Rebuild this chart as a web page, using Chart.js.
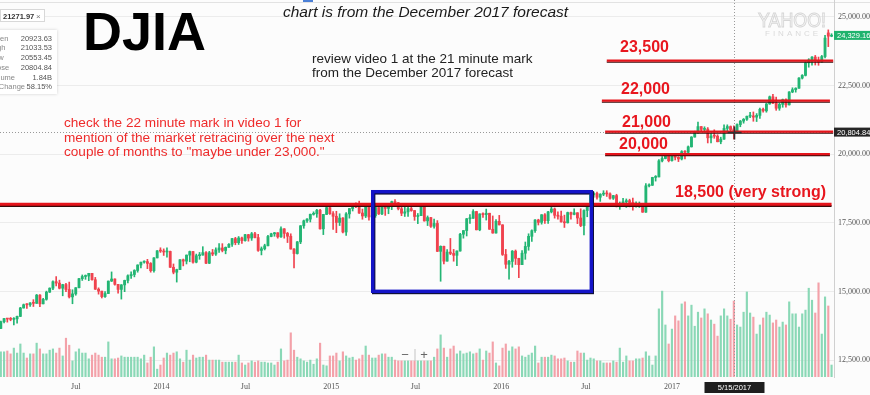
<!DOCTYPE html>
<html>
<head>
<meta charset="utf-8">
<script src="https://cdn.jsdelivr.net/npm/chart.js@4.4.1/dist/chart.umd.min.js"></script>
<style>
html, body { margin: 0; padding: 0; background: #fff; }
canvas { display: block; }
</style>
</head>
<body>
<canvas id="djia" width="870" height="395"></canvas>
<script>
// weekly DJIA candles, week 0 = week of Jan 21 2013
var opens = [
13650,13896,14010,13993,13981,14000,14090,14397,14514,14512,
14579,14565,14865,14547,14712,14974,15118,15354,15303,15116,
15248,15070,14800,14910,15135,15464,15544,15559,15658,15426,
15081,15010,14810,14922,15376,15452,15258,15073,15237,15400,
15571,15616,15762,15962,16065,16086,16020,15755,16221,16479,
16470,16437,16458,15879,15699,15794,16154,16104,16322,16453,
16066,16302,16323,16413,16027,16409,16361,16513,16583,16491,
16606,16717,16924,16776,16947,16851,17068,16944,17100,16961,
16493,16554,16663,17001,17098,17137,16988,17280,17113,17010,
16544,16380,16805,17391,17573,17635,17810,17828,17959,17281,
17805,18053,17833,17738,17512,17673,17165,17825,18019,18140,
18133,17856,17749,18128,17713,17763,18058,17826,18081,18025,
18191,18272,18232,18011,17849,17899,18016,17947,17730,17760,
18086,17569,17690,17373,17477,16460,16643,16102,16433,16385,
16315,16472,17084,17216,17647,17664,17911,17245,17824,17798,
17848,17265,17128,17553,17425,16346,15988,16094,16466,16205,
15974,16392,16640,17007,17213,17602,17516,17793,17577,17898,
18004,17774,17741,17535,17501,17873,17807,17865,17675,17400,
17949,18147,18517,18571,18432,18543,18577,18553,18395,18492,
18085,18124,18262,18308,18240,18138,18146,18161,17888,18848,
18868,19153,19171,19757,19843,19934,19763,19964,19886,19827,
20094,20071,20269,20624,20822,21006,20903,20915,20597,20663,
20656,20453,20548,20941,21007,20924,20805,21080,21206,21272,
21384,21395,21350,21414,21638,21580,21830,22092,21858,21675,
21814,21988,21798,22268,22350,22405,22774,22872,23329,23434,
23539,23422,23358,23558,24420,24300
];
var highs = [
13920,14020,14020,14050,14050,14100,14420,14540,14560,14590,
14700,14890,14880,14750,15010,15130,15390,15540,15410,15260,
15290,15340,15060,15140,15480,15600,15600,15660,15660,15510,
15130,15010,14990,15380,15710,15460,15260,15250,15410,15600,
15710,15790,15970,16070,16110,16170,16050,16230,16490,16590,
16550,16590,16470,16000,15810,16160,16180,16330,16470,16460,
16360,16420,16630,16450,16460,16530,16590,16740,16740,16620,
16740,16930,16970,17000,16980,17080,17080,17150,17150,17080,
16620,16720,17040,17120,17150,17140,17350,17290,17150,17100,
16560,16820,17400,17600,17650,17820,17900,17990,17990,17810,
18100,18100,17910,17920,17830,17690,17870,18020,18160,18230,
18290,18000,18180,18210,17990,18080,18110,18100,18180,18210,
18290,18350,18240,18100,18100,18120,18140,17950,17840,18140,
18130,17750,17700,17640,17580,16660,16650,16520,16930,16530,
16480,17120,17220,17660,17800,17980,17920,17830,17860,18000,
17850,17750,17620,17770,17430,16530,16130,16490,16510,16210,
16490,16800,17100,17240,17620,17630,17800,17840,17920,18170,
18040,17900,17930,17780,17890,17890,18010,17870,18010,17970,
18170,18540,18620,18620,18560,18670,18670,18590,18500,18540,
18260,18390,18370,18360,18400,18260,18260,18170,18930,18920,
19160,19220,19800,19910,19990,19950,19990,19990,19910,20130,
20130,20300,20640,20840,21170,21010,21000,20970,20750,20890,
20710,20620,21070,21070,21030,21034,21110,21230,21300,21390,
21530,21540,21480,21680,21680,21850,22120,22180,22080,21860,
22010,22020,22280,22420,22420,22790,22900,23370,23480,23560,
23600,23540,23600,24330,24530,24390
];
var lows = [
13640,13850,13880,13930,13780,13840,14080,14390,14380,14450,
14450,14560,14440,14540,14680,14960,15060,15200,15090,14840,
14990,14760,14550,14860,15130,15400,15440,15390,15410,15070,
14900,14760,14780,14920,15360,15230,14940,14720,14990,15310,
15470,15530,15700,15860,16030,15830,15700,15700,16220,16420,
16310,16250,15870,15640,15340,15790,15930,16000,16080,16030,
16040,16170,16320,16010,16010,16300,16310,16420,16440,16370,
16600,16640,16700,16710,16750,16830,16830,16860,16950,16460,
16330,16510,16660,16990,17010,16940,16970,16940,16780,16540,
15860,16360,16740,17300,17510,17530,17780,17700,17270,17070,
17800,17810,17260,17140,17400,17130,17040,17670,17930,18050,
17840,17630,17690,17600,17590,17700,17800,17800,17770,17830,
17980,18180,17970,17760,17730,17730,17920,17590,17470,17760,
17560,17400,17330,17300,16450,15370,16000,16100,16340,16100,
15940,16470,16940,17020,17480,17660,17240,17210,17700,17600,
17260,17120,17120,17420,16310,15840,15450,15880,15980,15500,
15970,16170,16500,16820,17150,17420,17450,17480,17480,17860,
17670,17630,17520,17330,17490,17630,17790,17470,17360,17060,
17720,18140,18430,18360,18280,18490,18460,18360,18350,18080,
17990,18100,18060,18080,17960,18070,18060,17880,17880,18810,
18860,19020,19170,19720,19830,19720,19750,19790,19730,19790,
19830,20010,20260,20620,20760,20840,20800,20410,20410,20580,
20450,20380,20540,20850,20860,20553,20800,21000,21130,21230,
21330,21200,21190,21300,21530,21530,21820,21840,21600,21600,
21710,21710,21790,22240,22260,22400,22740,22850,23170,23240,
23250,23240,23350,23510,23920,24280
];
var closes = [
13896,14010,13993,13981,14000,14090,14397,14514,14512,14579,
14565,14865,14547,14712,14974,15118,15354,15303,15116,15248,
15070,14800,14910,15135,15464,15544,15559,15658,15426,15081,
15010,14810,14922,15376,15452,15258,15073,15237,15400,15571,
15616,15762,15962,16065,16086,16020,15755,16221,16479,16470,
16437,16458,15879,15699,15794,16154,16104,16322,16453,16066,
16302,16323,16413,16027,16409,16361,16513,16583,16491,16606,
16717,16924,16776,16947,16851,17068,16944,17100,16961,16493,
16554,16663,17001,17098,17137,16988,17280,17113,17010,16544,
16380,16805,17391,17573,17635,17810,17828,17959,17281,17805,
18053,17833,17738,17512,17673,17165,17825,18019,18140,18133,
17856,17749,18128,17713,17763,18058,17826,18081,18025,18191,
18272,18232,18011,17849,17899,18016,17947,17730,17760,18086,
17569,17690,17373,17477,16460,16643,16102,16433,16385,16315,
16472,17084,17216,17647,17664,17911,17245,17824,17798,17848,
17265,17128,17553,17425,16346,15988,16094,16466,16205,15974,
16392,16640,17007,17213,17602,17516,17793,17577,17898,18004,
17774,17741,17535,17501,17873,17807,17865,17675,17400,17949,
18147,18517,18571,18432,18543,18577,18553,18395,18492,18085,
18124,18262,18308,18240,18138,18146,18161,17888,18848,18868,
19153,19171,19757,19843,19934,19763,19964,19886,19827,20094,
20071,20269,20624,20822,21006,20903,20915,20597,20663,20656,
20453,20548,20941,21007,20897,20805,21080,21206,21272,21384,
21395,21350,21414,21638,21580,21830,22092,21858,21675,21814,
21988,21798,22268,22350,22405,22774,22872,23329,23434,23539,
23422,23358,23558,24231,24300,24329
];
// weekly volume, billions of shares
var volumes = [
.61,.61,.63,.56,.70,.58,.80,.58,.46,.56,
.56,.82,.68,.56,.56,.65,.68,.58,.70,.51,
.94,.77,.39,.61,.68,.58,.58,.44,.53,.58,
.53,.48,.48,.85,.44,.44,.46,.51,.48,.48,
.48,.48,.48,.44,.53,.34,.48,.73,.19,.29,
.46,.58,.53,.58,.61,.44,.36,.65,.41,.53,
.46,.48,.48,.53,.41,.41,.41,.41,.36,.36,
.36,.36,.36,.53,.34,.29,.34,.39,.36,.39,
.36,.36,.34,.34,.29,.36,.68,.39,.41,1.07,
.65,.48,.44,.39,.36,.41,.31,.44,.82,.29,
.27,.51,.51,.58,.39,.61,.51,.46,.48,.41,
.44,.53,.75,.53,.46,.46,.53,.56,.56,.48,
.48,.41,.39,.39,.39,.39,.39,.39,.39,.39,
.39,.39,.39,.48,.68,1.02,.70,.48,.68,.75,
.56,.63,.56,.58,.61,.56,.58,.68,.41,.63,
.58,.85,.34,.27,.70,.80,.63,.73,.68,.73,
.51,.48,.53,.58,.75,.34,.48,.48,.48,.53,
.51,.44,.44,.46,.39,.36,.36,.63,.58,.58,
.41,.46,.44,.39,.39,.34,.34,.34,.39,.36,
.70,.36,.51,.39,.39,.44,.44,.46,.61,.51,
.29,.51,1.65,2.08,1.26,.80,1.16,1.48,1.36,1.77,
1.82,1.48,1.74,1.23,1.57,1.43,1.65,1.53,1.38,1.28,
.99,1.48,1.65,1.48,1.40,1.84,1.26,1.21,1.57,2.06,
1.55,1.45,1.04,1.26,1.43,1.57,1.50,1.31,1.38,1.21,
1.33,1.26,1.82,1.53,1.53,1.21,1.53,1.62,2.15,1.86,
1.55,2.28,1.04,1.94,1.72,.29
];

var tickWeeks = [23, 49.3, 75.1, 101.4, 127.3, 153.6, 179.6, 206];
var tickLabels = ['Jul', '2014', 'Jul', '2015', 'Jul', '2016', 'Jul', '2017'];
var priceTicks = [12500, 15000, 17500, 20000, 22500, 25000];

// hand drawn support lines
var levelPrices = [23410, 21950, 20820, 20000, 18180];
var levelFrom = [186, 184.5, 185.5, 185.5, -0.25];
var levelTo = [255.5, 254.5, 255.5, 254.5, 255];
var levelNames = ['23,500', '22,000', '21,000', '20,000', '18,500 (very strong)'];
var boxWeeks = [114.15, 181.25];
var boxPrices = [18634, 15004];
var crossWeek = 225;
var crossPrice = 20804.84;
var lastPrice = 24329.16;

var upCol = '#22b573', downCol = '#f0424e';
var upVol = '#8ad8b6', downVol = '#f3a1a9';
var isUp = closes.map(function (c, i) { return c >= opens[i]; });

function fmt(v) {
	return v.toLocaleString('en-US', { minimumFractionDigits: 2, maximumFractionDigits: 2 });
}

var SANS = '"Liberation Sans", Arial, sans-serif';

var overlay = {
	id: 'overlay',
	beforeDraw: function (chart) {
		var ctx = chart.ctx;
		ctx.save();
		ctx.fillStyle = '#fcfcfc';
		ctx.fillRect(0, 0, chart.width, chart.height);
		ctx.fillStyle = '#e2e2e2';
		ctx.fillRect(0, 2, chart.width, 1);
		ctx.fillStyle = '#4a7fd6';
		ctx.fillRect(303, 0, 10, 2);
		ctx.restore();
	},
	afterDraw: function (chart) {
		var ctx = chart.ctx, x = chart.scales.x, y = chart.scales.y, a = chart.chartArea;
		ctx.save();

		// crosshair
		var cx = Math.round(x.getPixelForValue(crossWeek)) + 0.5;
		var cy = Math.round(y.getPixelForValue(crossPrice)) + 0.5;
		ctx.strokeStyle = '#999';
		ctx.lineWidth = 1;
		ctx.setLineDash([1, 2]);
		ctx.beginPath(); ctx.moveTo(cx, a.top); ctx.lineTo(cx, a.bottom); ctx.stroke();
		ctx.beginPath(); ctx.moveTo(a.left, cy); ctx.lineTo(a.right, cy); ctx.stroke();
		ctx.setLineDash([]);

		// watermark
		ctx.strokeStyle = '#d6d6d6';
		ctx.font = '20px ' + SANS;
		ctx.strokeText('YAHOO!', 758, 27, 68);
		ctx.fillStyle = '#dadada';
		ctx.font = '8px ' + SANS;
		ctx.letterSpacing = '3px';
		ctx.fillText('FINANCE', 765, 36, 64);
		ctx.letterSpacing = '0px';

		// red levels
		var gaps = [9, 7, 5, 5.5, 7];
		var labelX = [620, 621, 622, 619, 675];
		levelPrices.forEach(function (p, i) {
			var py = y.getPixelForValue(p);
			var x0 = x.getPixelForValue(levelFrom[i]), x1 = x.getPixelForValue(levelTo[i]);
			var w = i === 4 ? 3 : 2.2;
			ctx.strokeStyle = '#3a0a0a';
			ctx.lineWidth = i === 4 ? 2 : 1.2;
			ctx.beginPath(); ctx.moveTo(x0, py + w * 0.65); ctx.lineTo(x1, py + w * 0.65); ctx.stroke();
			ctx.strokeStyle = '#e5141b';
			ctx.lineWidth = w;
			ctx.beginPath(); ctx.moveTo(x0, py); ctx.lineTo(x1, py); ctx.stroke();
			ctx.fillStyle = '#e8161e';
			ctx.font = 'bold 16px ' + SANS;
			ctx.textAlign = 'left';
			ctx.textBaseline = 'alphabetic';
			ctx.fillText(levelNames[i], labelX[i], py - gaps[i]);
		});

		// blue range box
		var bx0 = x.getPixelForValue(boxWeeks[0]), bx1 = x.getPixelForValue(boxWeeks[1]);
		var by0 = y.getPixelForValue(boxPrices[0]), by1 = y.getPixelForValue(boxPrices[1]);
		ctx.lineWidth = 3.4;
		ctx.strokeStyle = '#10103a';
		ctx.strokeRect(bx0 + 1, by0 + 1.2, bx1 - bx0, by1 - by0);
		ctx.strokeStyle = '#1414c8';
		ctx.strokeRect(bx0, by0, bx1 - bx0, by1 - by0);

		// cross marker
		ctx.strokeStyle = '#333';
		ctx.lineWidth = 1.6;
		ctx.beginPath();
		ctx.moveTo(cx - 7, cy); ctx.lineTo(cx + 7, cy);
		ctx.moveTo(cx, cy - 6); ctx.lineTo(cx, cy + 7);
		ctx.stroke();

		// titles and notes
		ctx.fillStyle = '#000';
		ctx.font = 'bold 54px ' + SANS;
		ctx.fillText('DJIA', 83, 50);
		ctx.fillStyle = '#1a1a1a';
		ctx.font = 'italic 15.5px ' + SANS;
		ctx.fillText('chart is from the December 2017 forecast', 283, 17);
		ctx.fillStyle = '#222';
		ctx.font = '13.5px ' + SANS;
		ctx.fillText('review video 1 at the 21 minute mark', 312, 62.5);
		ctx.fillText('from the December 2017 forecast', 312, 77);
		ctx.fillStyle = '#ee2b2b';
		ctx.font = '13.6px ' + SANS;
		ctx.fillText('check the 22 minute mark in video 1 for', 64, 127);
		ctx.fillText('mention of the market retracing over the next', 64, 141.5);
		ctx.fillText('couple of months to "maybe under 23,000."', 64, 156);

		// info box top left
		ctx.fillStyle = '#fff';
		ctx.fillRect(0, 9, 45, 13);
		ctx.strokeStyle = '#d8d8d8';
		ctx.lineWidth = 1;
		ctx.strokeRect(0.5, 9.5, 44, 12);
		ctx.fillStyle = '#333';
		ctx.font = 'bold 7.5px ' + SANS;
		ctx.fillText('21271.97', 3, 18.5);
		ctx.fillStyle = '#777';
		ctx.font = '8px ' + SANS;
		ctx.fillText('\u00d7', 36, 18.5);

		ctx.shadowColor = 'rgba(0,0,0,0.18)';
		ctx.shadowBlur = 3;
		ctx.fillStyle = '#fff';
		ctx.fillRect(-4, 30, 61, 64);
		ctx.shadowBlur = 0;
		ctx.shadowColor = 'transparent';
		var rowNames = ['Open', 'High', 'Low', 'Close', 'Volume', '% Change'];
		var rowVals = ['20923.63', '21033.53', '20553.45', '20804.84', '1.84B', '58.15%'];
		var rowY = [40.5, 50, 59.5, 69.5, 79.5, 88.5];
		ctx.font = '7.5px ' + SANS;
		rowNames.forEach(function (n, i) {
			ctx.fillStyle = '#888';
			ctx.textAlign = 'left';
			ctx.fillText(n, -10, rowY[i]);
			ctx.fillStyle = '#555';
			ctx.textAlign = 'right';
			ctx.fillText(rowVals[i], 52, rowY[i]);
		});
		ctx.textAlign = 'left';

		// axis tags
		function tag(price, txt, bg) {
			var py = y.getPixelForValue(price);
			ctx.fillStyle = bg;
			ctx.fillRect(a.right, py - 4.5, chart.width - a.right, 9);
			ctx.fillStyle = '#fff';
			ctx.font = '7.5px ' + SANS;
			ctx.textBaseline = 'middle';
			ctx.fillText(txt, a.right + 3, py + 0.5);
			ctx.textBaseline = 'alphabetic';
		}
		tag(lastPrice, fmt(lastPrice), '#1fb36d');
		tag(crossPrice, fmt(crossPrice), '#262626');

		ctx.fillStyle = '#1e1e1e';
		ctx.fillRect(cx - 30, 382, 60, 11);
		ctx.fillStyle = '#fff';
		ctx.font = '7.5px ' + SANS;
		ctx.textAlign = 'center';
		ctx.textBaseline = 'middle';
		ctx.fillText('5/15/2017', cx, 387.5);

		// zoom control
		ctx.fillStyle = '#666';
		ctx.font = '13px ' + SANS;
		ctx.fillText('\u2212', 405, 355);
		ctx.fillText('+', 424, 355);
		ctx.fillStyle = '#c4c4c4';
		ctx.fillRect(414.5, 349, 1, 12);

		ctx.restore();
	}
};

new Chart(document.getElementById('djia').getContext('2d'), {
	type: 'bar',
	data: {
		datasets: [{
			label: 'body',
			data: closes.map(function (c, i) { return { x: i, y: [opens[i], c] }; }),
			backgroundColor: isUp.map(function (u) { return u ? upCol : downCol; }),
			barThickness: 2.2,
			minBarLength: 1,
			grouped: false,
			order: 1,
			yAxisID: 'y'
		}, {
			label: 'wick',
			data: closes.map(function (c, i) { return { x: i, y: [lows[i], highs[i]] }; }),
			backgroundColor: isUp.map(function (u) { return u ? upCol : downCol; }),
			barThickness: 1,
			grouped: false,
			order: 2,
			yAxisID: 'y'
		}, {
			label: 'volume',
			data: volumes.map(function (v, i) { return { x: i, y: v }; }),
			backgroundColor: isUp.map(function (u) { return u ? upVol : downVol; }),
			barThickness: 1.5,
			grouped: false,
			order: 3,
			yAxisID: 'v'
		}]
	},
	options: {
		responsive: false,
		animation: false,
		devicePixelRatio: 1,
		layout: { padding: 0 },
		plugins: { legend: { display: false }, tooltip: { enabled: false } },
		scales: {
			x: {
				type: 'linear',
				min: -0.25,
				max: 255.75,
				offset: false,
				grid: { display: false, drawTicks: false, offset: false },
				border: { display: false },
				afterBuildTicks: function (s) { s.ticks = tickWeeks.map(function (w) { return { value: w }; }); },
				ticks: {
					autoSkip: false,
					maxRotation: 0,
					padding: 5,
					color: '#555',
					font: { family: '"Liberation Serif", serif', size: 8 },
					callback: function (v, i) { return tickLabels[i]; }
				},
				afterFit: function (s) { s.height = 18; s.paddingLeft = 0; s.paddingRight = 0; }
			},
			y: {
				position: 'right',
				min: 11881,
				max: 25619,
				grid: { color: '#ececec', drawTicks: false },
				border: { display: true, color: '#d0d0d0' },
				afterBuildTicks: function (s) { s.ticks = priceTicks.map(function (p) { return { value: p }; }); },
				ticks: {
					padding: 4,
					color: '#555',
					font: { family: '"Liberation Serif", serif', size: 8 },
					callback: function (v) { return fmt(v); }
				},
				afterFit: function (s) { s.width = 36; s.paddingTop = 0; s.paddingBottom = 0; }
			},
			v: {
				display: false,
				min: 0,
				max: 9.13
			}
		}
	},
	plugins: [overlay]
});
</script>
</body>
</html>
